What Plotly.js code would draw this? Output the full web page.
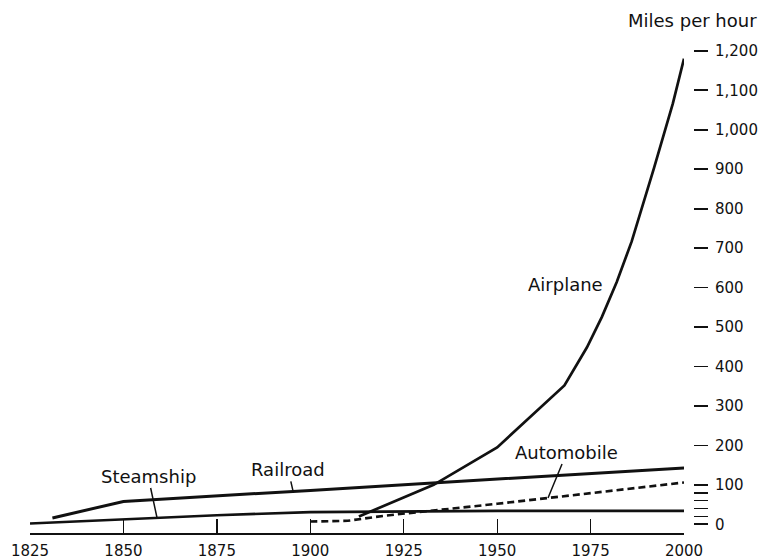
<!DOCTYPE html>
<html><head><meta charset="utf-8">
<script src="https://cdn.plot.ly/plotly-3.0.1.min.js"></script>
<style>html,body{margin:0;padding:0;background:#fff}#chart{width:765px;height:559px}</style>
</head><body><div id="chart"></div>
<script>
const steamshipYears = [1825, 1850, 1875, 1900, 1925, 1950, 1975, 2000];
const steamshipMph   = [2, 12, 23, 31, 33, 34, 34, 34];
const railroadYears  = [1831, 1850, 1900, 1950, 2000];
const railroadMph    = [16, 58, 86, 115, 143];
const automobileYears = [1900, 1910, 1920, 1950, 2000];
const automobileMph   = [7, 9, 22, 52, 106];
const airplaneYears = [1913, 1933, 1950, 1968, 1974, 1978, 1982, 1986, 1992, 1997, 2000];
const airplaneMph   = [20, 100, 195, 352, 448, 525, 614, 717, 904, 1066, 1180];
const yearTicks = [1825, 1850, 1875, 1900, 1925, 1950, 1975, 2000];
const yearTickText = ['1825', '1850', '1875', '1900', '1925', '1950', '1975', '2000'];
const mphTicks = [0, 100, 200, 300, 400, 500, 600, 700, 800, 900, 1000, 1100, 1200];
const mphTickText = ['0', '100', '200', '300', '400', '500', '600', '700', '800', '900', '1,000', '1,100', '1,200'];
const mphMinorTicks = [20, 40, 60, 80];

function interp(xs, ys, x) {
  for (let i = 0; i < xs.length - 1; i++) {
    if (x >= xs[i] && x <= xs[i + 1]) {
      return ys[i] + (ys[i + 1] - ys[i]) * (x - xs[i]) / (xs[i + 1] - xs[i]);
    }
  }
  return ys[ys.length - 1];
}

const ink = '#111';
const solid = (w) => ({color: ink, width: w});

const traces = [
  {x: steamshipYears, y: steamshipMph, mode: 'lines', line: solid(2.6), hoverinfo: 'skip'},
  {x: railroadYears, y: railroadMph, mode: 'lines', line: solid(3), hoverinfo: 'skip'},
  {x: automobileYears, y: automobileMph, mode: 'lines', line: {color: ink, width: 2.6, dash: '7px,4px'}, hoverinfo: 'skip'},
  {x: airplaneYears, y: airplaneMph, mode: 'lines', line: solid(2.7), hoverinfo: 'skip'}
];

const labelFont = {family: 'DejaVu Sans', size: 18, color: ink};
const leader = (x, y, text, ax, ay) => ({
  x: x, y: y, xref: 'x', yref: 'y', text: text, showarrow: true,
  arrowhead: 0, arrowwidth: 1.5, arrowcolor: ink, ax: ax, ay: ay,
  standoff: 0, startstandoff: 0, font: labelFont
});

const layout = {
  width: 765, height: 559,
  margin: {l: 30, r: 55, t: 35, b: 26},
  paper_bgcolor: '#fff', plot_bgcolor: '#fff',
  showlegend: false,
  font: {family: 'DejaVu Sans', size: 15, color: ink},
  xaxis: {
    range: [1825, 2000], domain: [0, 0.9618],
    tickmode: 'array', tickvals: yearTicks, ticktext: yearTickText,
    ticks: 'inside', ticklen: 14, tickwidth: 1.3, tickcolor: ink,
    showline: true, linewidth: 1.6, linecolor: ink,
    showgrid: false, zeroline: false, ticklabelstandoff: 3,
    tickfont: {family: 'DejaVu Sans', size: 15, color: ink}
  },
  yaxis: {
    range: [-22, 1240], anchor: 'free', position: 0.975, side: 'right',
    tickmode: 'array', tickvals: mphTicks, ticktext: mphTickText,
    ticks: 'outside', ticklen: 14, tickwidth: 1.8, tickcolor: ink,
    showline: false, showgrid: false, zeroline: false, ticklabelstandoff: 4,
    tickfont: {family: 'DejaVu Sans', size: 15, color: ink},
    minor: {tickmode: 'array', tickvals: mphMinorTicks, ticks: 'outside', ticklen: 14, tickwidth: 1.6, tickcolor: ink, showgrid: false}
  },
  annotations: [
    leader(1859, interp(steamshipYears, steamshipMph, 1859), 'Steamship', -9, -42),
    leader(1895.4, interp(railroadYears, railroadMph, 1895.4), 'Railroad', -5, -22),
    leader(1963.6, interp(automobileYears, automobileMph, 1963.6), 'Automobile', 19, -46),
    {x: 1968.2, y: 609, xref: 'x', yref: 'y', text: 'Airplane', showarrow: false, font: labelFont},
    {x: 0.974, y: 1.03, xref: 'paper', yref: 'paper', text: 'Miles per hour', showarrow: false,
     xanchor: 'center', yanchor: 'middle', font: labelFont}
  ]
};

Plotly.newPlot('chart', traces, layout, {staticPlot: true, displayModeBar: false});
</script>
</body></html>
